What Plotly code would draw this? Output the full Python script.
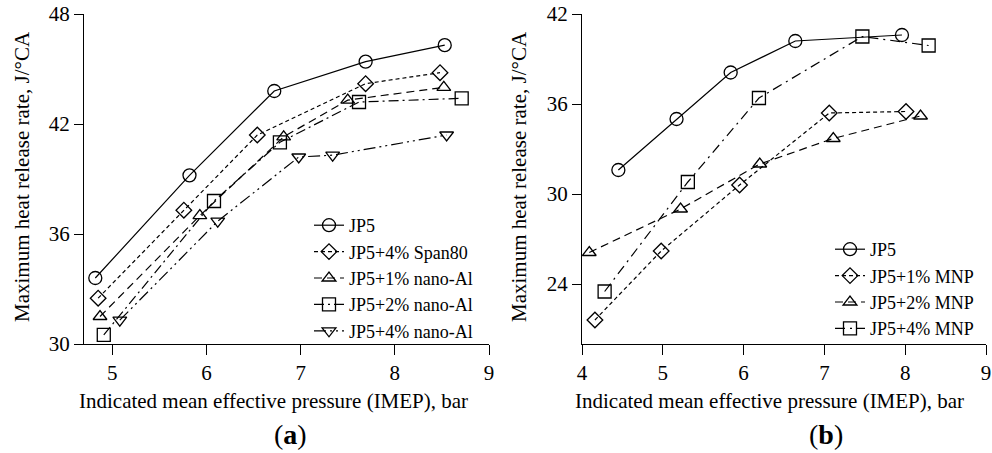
import plotly.graph_objects as go

# ---- Data: panel (a) ----
a_names = ["JP5", "JP5+4% Span80", "JP5+1% nano-Al", "JP5+2% nano-Al", "JP5+4% nano-Al"]
a_x_jp5 = [4.82, 5.82, 6.72, 7.69, 8.53]
a_y_jp5 = [33.6, 39.2, 43.8, 45.4, 46.3]
a_x_span = [4.85, 5.76, 6.54, 7.69, 8.48]
a_y_span = [32.5, 37.3, 41.4, 44.2, 44.8]
a_x_al1 = [4.87, 5.93, 6.82, 7.50, 8.52]
a_y_al1 = [31.5, 37.0, 41.3, 43.3, 44.0]
a_x_al2 = [4.91, 6.08, 6.78, 7.62, 8.71]
a_y_al2 = [30.5, 37.8, 41.0, 43.2, 43.4]
a_x_al4 = [5.08, 6.12, 6.98, 7.34, 8.55]
a_y_al4 = [31.3, 36.7, 40.2, 40.3, 41.4]

# ---- Data: panel (b) ----
b_names = ["JP5", "JP5+1% MNP", "JP5+2% MNP", "JP5+4% MNP"]
b_x_jp5 = [4.45, 5.17, 5.84, 6.64, 7.96]
b_y_jp5 = [31.6, 35.0, 38.1, 40.2, 40.6]
b_x_m1 = [4.16, 4.98, 5.95, 7.06, 8.01]
b_y_m1 = [21.6, 26.2, 30.6, 35.4, 35.5]
b_x_m2 = [4.09, 5.22, 6.20, 7.11, 8.19]
b_y_m2 = [26.1, 29.0, 32.0, 33.7, 35.2]
b_x_m4 = [4.28, 5.31, 6.19, 7.47, 8.29]
b_y_m4 = [23.5, 30.8, 36.4, 40.5, 39.9]

x_ticks_a = [5, 6, 7, 8, 9]
y_ticks_a = [30, 36, 42, 48]
x_ticks_b = [4, 5, 6, 7, 8, 9]
y_ticks_b = [24, 30, 36, 42]

FONT = "Liberation Serif"
LW = 1.2

a_series = [
    (a_x_jp5, a_y_jp5, a_names[0], "circle-open", 13, "solid"),
    (a_x_span, a_y_span, a_names[1], "diamond-open", 12, "4px,3px"),
    (a_x_al1, a_y_al1, a_names[2], "triangle-up-open", 12, "8px,5px"),
    (a_x_al2, a_y_al2, a_names[3], "square-open", 13, "10px,4px,2px,4px"),
    (a_x_al4, a_y_al4, a_names[4], "triangle-down-open", 12, "12px,4px,2px,4px,2px,4px"),
]
b_series = [
    (b_x_jp5, b_y_jp5, b_names[0], "circle-open", 13, "solid"),
    (b_x_m1, b_y_m1, b_names[1], "diamond-open", 12, "4px,3px"),
    (b_x_m2, b_y_m2, b_names[2], "triangle-up-open", 12, "8px,5px"),
    (b_x_m4, b_y_m4, b_names[3], "square-open", 13, "10px,5px,2px,5px"),
]

fig = go.Figure()
for xs, ys, nm, sym, sz, dash in a_series:
    fig.add_trace(go.Scatter(
        x=xs, y=ys, name=nm, mode="lines+markers", xaxis="x", yaxis="y",
        line=dict(color="black", width=LW, dash=dash),
        marker=dict(symbol=sym, size=sz, color="black", line=dict(width=1.3)),
        legend="legend"))
for xs, ys, nm, sym, sz, dash in b_series:
    fig.add_trace(go.Scatter(
        x=xs, y=ys, name=nm, mode="lines+markers", xaxis="x2", yaxis="y2",
        line=dict(color="black", width=LW, dash=dash),
        marker=dict(symbol=sym, size=sz, color="black", line=dict(width=1.3)),
        legend="legend2"))

W, H = 992, 453
ydom = [(H - 344) / H, (H - 14) / H]
axis_common = dict(showline=True, linecolor="black", linewidth=1.3, showgrid=False,
                   zeroline=False, ticks="outside", tickcolor="black", tickwidth=1.3,
                   automargin=False,
                   tickfont=dict(family=FONT, size=21, color="black"))

fig.update_layout(
    width=W, height=H, margin=dict(l=0, r=0, t=0, b=0, pad=0, autoexpand=False),
    paper_bgcolor="white", plot_bgcolor="white",
    font=dict(family=FONT, color="black"),
    xaxis=dict(domain=[84 / W, 489 / W], range=[4.7, 9], tickvals=x_ticks_a, ticklen=10,
               anchor="y", **axis_common),
    yaxis=dict(domain=ydom, range=[30, 48], tickvals=y_ticks_a, ticklen=9,
               anchor="x", **axis_common),
    xaxis2=dict(domain=[582 / W, 986 / W], range=[4, 9], tickvals=x_ticks_b, ticklen=10,
                anchor="y2", **axis_common),
    yaxis2=dict(domain=ydom, range=[20, 42], tickvals=y_ticks_b, ticklen=9,
                anchor="x2", **axis_common),
    legend=dict(x=309 / W, y=(H - 207) / H, xanchor="left", yanchor="top",
                bgcolor="rgba(0,0,0,0)", font=dict(family=FONT, size=18, color="black"),
                tracegroupgap=0),
    legend2=dict(x=830 / W, y=(H - 231) / H, xanchor="left", yanchor="top",
                 bgcolor="rgba(0,0,0,0)", font=dict(family=FONT, size=18, color="black"),
                 tracegroupgap=0),
    showlegend=True,
)

ytitle = "Maximum heat release rate, J/°CA"
xtitle = "Indicated mean effective pressure (IMEP), bar"
anns = [
    dict(x=22 / W, y=(H - 177) / H, text=ytitle, textangle=-90),
    dict(x=519 / W, y=(H - 177) / H, text=ytitle, textangle=-90),
    dict(x=273 / W, y=(H - 401) / H, text=xtitle),
    dict(x=769 / W, y=(H - 401) / H, text=xtitle),
]
for a in anns:
    fig.add_annotation(xref="paper", yref="paper", showarrow=False,
                       xanchor="center", yanchor="middle",
                       font=dict(family=FONT, size=21, color="black"), **a)
fig.add_annotation(xref="paper", yref="paper", x=290 / W, y=(H - 434) / H, showarrow=False,
                   xanchor="center", yanchor="middle",
                   text="(<b>a</b>)", font=dict(family=FONT, size=28, color="black"))
fig.add_annotation(xref="paper", yref="paper", x=826 / W, y=(H - 434) / H, showarrow=False,
                   xanchor="center", yanchor="middle",
                   text="(<b>b</b>)", font=dict(family=FONT, size=28, color="black"))

fig.write_html("out.html")
